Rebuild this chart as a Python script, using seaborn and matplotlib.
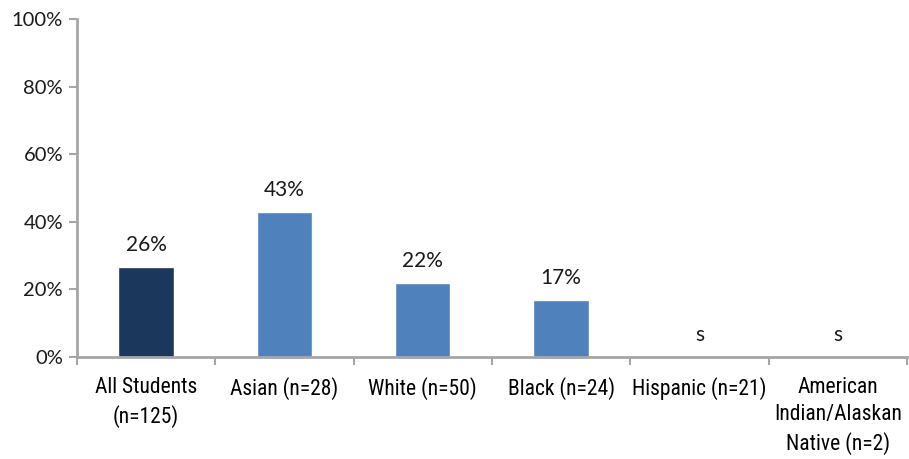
import pandas as pd
import matplotlib.pyplot as plt
import seaborn as sns
from matplotlib import font_manager
from matplotlib.ticker import PercentFormatter

categories = ['All Students\n(n=125)', 'Asian (n=28)', 'White (n=50)', 'Black (n=24)',
              'Hispanic (n=21)', 'American\nIndian/Alaskan\nNative (n=2)']
values = [26.6, 42.9, 21.9, 16.9, 0, 0]
value_labels = ['26%', '43%', '22%', '17%', 's', 's']
bar_colors = ['#1B375C', '#4F81BD', '#4F81BD', '#4F81BD', '#4F81BD', '#4F81BD']

df = pd.DataFrame({'group': categories, 'pct': values})

sns.set_style('white')
plt.rcParams['font.family'] = ['Lato', 'DejaVu Sans']
AXIS = '#A6A6A6'

# condensed face for the category labels, if one is installed
names = {f.name for f in font_manager.fontManager.ttflist}
narrow = [n for n in ['Liberation Sans Narrow', 'DejaVu Sans Condensed', 'Roboto Condensed'] if n in names]

fig = plt.figure(figsize=(9.09, 4.59), dpi=100)
ax = fig.add_axes([0.0847, 0.222, 0.913, 0.7366])
sns.barplot(data=df, x='group', y='pct', hue='group', palette=bar_colors,
            legend=False, width=0.4, ax=ax, saturation=1)

ax.set_ylim(0, 100)
ax.set_xlim(-0.5, len(categories) - 0.5)
ax.set_yticks(range(0, 101, 20))
ax.yaxis.set_major_formatter(PercentFormatter(decimals=0))
ax.set_xlabel('')
ax.set_ylabel('')

# category tick marks sit between the groups
ax.set_xticks([i + 0.5 for i in range(-1, len(categories))], minor=True)
ax.tick_params(axis='x', which='both', bottom=True)
ax.tick_params(axis='x', which='major', length=0, pad=14)
ax.tick_params(axis='x', which='minor', length=6, width=1.5, color=AXIS, direction='out')
ax.tick_params(axis='y', left=True, length=6, width=1.5, color=AXIS, direction='out',
               labelsize=14.5, pad=4, labelcolor='#1a1a1a')
for lab in ax.get_xticklabels():
    if narrow:
        lab.set_family(narrow + ['DejaVu Sans'])
    else:
        lab.set_family('DejaVu Sans')
        lab.set_stretch('condensed')
    lab.set_fontsize(15.5)
    lab.set_color('#000000')
    lab.set_linespacing(1.4)
    lab.set_verticalalignment('top')

for side in ['top', 'right']:
    ax.spines[side].set_visible(False)
for side in ['left', 'bottom']:
    ax.spines[side].set_color(AXIS)
    ax.spines[side].set_linewidth(2)

for i, (v, lbl) in enumerate(zip(values, value_labels)):
    ax.text(i, v + 3.5, lbl, ha='center', va='bottom', fontsize=15, color='#1a1a1a')

fig.savefig('out.png', dpi=100)
